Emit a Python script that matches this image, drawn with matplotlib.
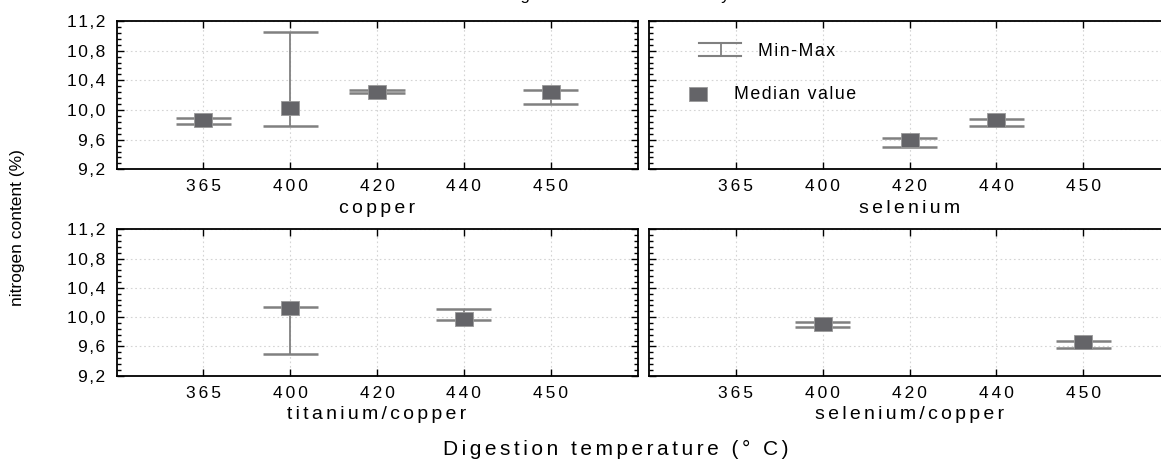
import numpy as np
import matplotlib
matplotlib.use("Agg")
import matplotlib.pyplot as plt
from matplotlib.ticker import MultipleLocator, FuncFormatter, FixedLocator

plt.rcParams['font.family'] = ['Liberation Sans', 'DejaVu Sans']

# ---- data ----
temps = ["365", "400", "420", "440", "450"]

copper_t = ["365", "400", "420", "450"]
copper_med = [9.87, 10.03, 10.24, 10.24]
copper_min = [9.81, 9.79, 10.225, 10.085]
copper_max = [9.89, 11.05, 10.265, 10.265]

selenium_t = ["420", "440"]
selenium_med = [9.59, 9.86]
selenium_min = [9.505, 9.79]
selenium_max = [9.62, 9.875]

ticu_t = ["400", "440"]
ticu_med = [10.12, 9.97]
ticu_min = [9.50, 9.96]
ticu_max = [10.145, 10.11]

secu_t = ["400", "450"]
secu_med = [9.91, 9.655]
secu_min = [9.87, 9.58]
secu_max = [9.935, 9.67]

panels = [
    ("copper", copper_t, copper_med, copper_min, copper_max),
    ("selenium", selenium_t, selenium_med, selenium_min, selenium_max),
    ("titanium/copper", ticu_t, ticu_med, ticu_min, ticu_max),
    ("selenium/copper", secu_t, secu_med, secu_min, secu_max),
]

W, H = 1161, 463


def sp(s, k=1):
    # letter spacing like the original, done with hair spaces
    return ("\u200a" * k).join(s)


box = [(-1, -0.76), (1, -0.76), (1, 0.76), (-1, 0.76), (-1, -0.76)]
sq_color = "#646468"
bar_color = "#808080"
capw = 0.317

fig = plt.figure(figsize=(W / 100, H / 100), dpi=100)

# axes rectangles in pixels: left, top, width, height
rects = [(116.5, 21, 521, 148.3), (649, 21, 521, 148.3),
         (116.5, 229.3, 521, 146.5), (649, 229.3, 521, 146.5)]

axes = []
for i, (name, tt, med, mn, mx) in enumerate(panels):
    l, t, w, h = rects[i]
    ax = fig.add_axes([l / W, 1 - (t + h) / H, w / W, h / H])
    axes.append(ax)
    pos = np.array([temps.index(x) + 1 for x in tt])
    ax.vlines(pos, mn, mx, color=bar_color, lw=1.3, zorder=2)
    ax.hlines(mn, pos - capw, pos + capw, color=bar_color, lw=1.8, zorder=2)
    ax.hlines(mx, pos - capw, pos + capw, color=bar_color, lw=1.8, zorder=2)
    ax.plot(pos, med, ls="none", marker=box, ms=13, mfc=sq_color,
            mec="#9a9a9a", mew=0.6, zorder=3)

    ax.set_xlim(0, 6)
    ax.set_ylim(9.2, 11.2)
    ax.xaxis.set_major_locator(FixedLocator(range(1, 6)))
    ax.set_xticklabels([sp(x, 2) for x in temps])
    ax.yaxis.set_major_locator(MultipleLocator(0.4))
    ax.yaxis.set_minor_locator(MultipleLocator(0.08))
    ax.yaxis.set_major_formatter(FuncFormatter(lambda v, _: sp(f"{v:.1f}".replace(".", ","), 1)))
    ax.tick_params(which="both", direction="in", top=True, right=True,
                   labelsize=12.5, width=1, colors="black")
    ax.tick_params(which="major", length=5)
    ax.tick_params(axis="x", which="major", pad=7)
    ax.tick_params(axis="y", which="major", pad=8)
    ax.tick_params(which="minor", length=3)
    ax.tick_params(axis="x", which="minor", top=False, bottom=False)
    if i % 2 == 1:
        ax.tick_params(labelleft=False)
    ax.grid(True, which="major", ls=(0, (1.5, 2.5)), color="#d4d4d4", lw=0.8)
    for s in ax.spines.values():
        s.set_linewidth(1.3)
    ax.set_xlabel(sp(name, 2), fontsize=14, labelpad=4)

# legend drawn in the selenium panel
lg = axes[1]
tr = lg.transAxes
lg.plot([0.096, 0.1766], [0.8537, 0.8537], color=bar_color, lw=1.5, transform=tr)
lg.plot([0.096, 0.1766], [0.764, 0.764], color=bar_color, lw=1.5, transform=tr)
lg.plot([0.138, 0.138], [0.764, 0.8537], color=bar_color, lw=1.3, transform=tr)
lg.text(0.209, 0.795, sp("Min-Max"), transform=tr, va="center", ha="left", fontsize=12.8)
lg.plot([0.0931], [0.508], marker=box, ms=13, mfc=sq_color, mec="#9a9a9a",
        mew=0.6, transform=tr)
lg.text(0.163, 0.503, sp("Median value"), transform=tr, va="center", ha="left", fontsize=12.8)

fig.text(18 / W, 0.5076, "nitrogen content (%)", rotation=90, va="center",
         ha="center", fontsize=12.5)
fig.text(616 / W, 1 - 449 / H, sp("Digestion temperature (° C)", 2), va="center",
         ha="center", fontsize=15)
fig.text(0.537, 1.0, sp("Digestion with each catalyst"), va="baseline",
         ha="center", fontsize=12)

fig.savefig("out.png", dpi=100)
